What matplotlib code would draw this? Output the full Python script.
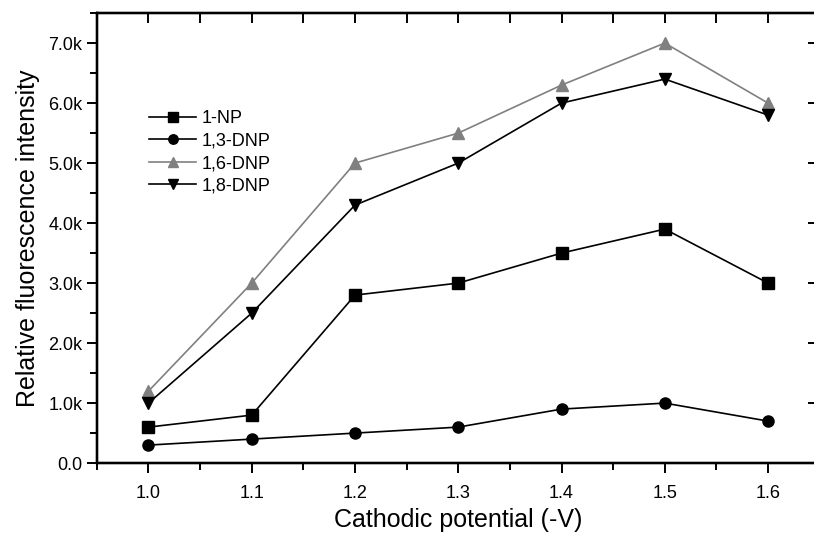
import matplotlib
matplotlib.use("Agg")
import matplotlib.pyplot as plt
from matplotlib.ticker import MultipleLocator, FuncFormatter

plt.rcParams['font.family'] = ['Liberation Sans', 'DejaVu Sans']

# data
potential = [1.0, 1.1, 1.2, 1.3, 1.4, 1.5, 1.6]
np1 = [600, 800, 2800, 3000, 3500, 3900, 3000]
dnp13 = [300, 400, 500, 600, 900, 1000, 700]
dnp16 = [1200, 3000, 5000, 5500, 6300, 7000, 6000]
dnp18 = [1000, 2500, 4300, 5000, 6000, 6400, 5800]

fig = plt.figure(figsize=(8.14, 5.36), dpi=100)
ax = fig.add_axes([0.119, 0.136, 0.888, 0.8396])

ax.plot(potential, np1, color='black', lw=1.2, marker='s', ms=8, label='1-NP')
ax.plot(potential, dnp13, color='black', lw=1.2, marker='o', ms=8, label='1,3-DNP')
ax.plot(potential, dnp16, color='#808080', lw=1.2, marker='^', ms=9, label='1,6-DNP')
ax.plot(potential, dnp18, color='black', lw=1.2, marker='v', ms=9, label='1,8-DNP')

ax.set_xlim(0.95, 1.65)
ax.set_ylim(0, 7500)
ax.xaxis.set_major_locator(MultipleLocator(0.1))
ax.xaxis.set_minor_locator(MultipleLocator(0.05))
ax.yaxis.set_major_locator(MultipleLocator(1000))
ax.yaxis.set_minor_locator(MultipleLocator(500))
ax.xaxis.set_major_formatter(FuncFormatter(lambda v, p: f"{v:.1f}"))
ax.yaxis.set_major_formatter(FuncFormatter(lambda v, p: "0.0" if v == 0 else f"{v/1000:.1f}k"))

for s in ax.spines.values():
    s.set_linewidth(1.6)

ax.tick_params(which='both', direction='out', width=1.4, labelsize=13)
ax.tick_params(which='major', length=7)
ax.tick_params(which='minor', length=5)
ax.tick_params(axis='x', pad=9)

# inward ticks on top
axt = ax.twiny()
axt.set_xlim(ax.get_xlim())
axt.xaxis.set_major_locator(MultipleLocator(0.1))
axt.xaxis.set_minor_locator(MultipleLocator(0.05))
axt.tick_params(which='both', direction='in', width=1.4, length=7, labeltop=False)
# right side: only major ticks, inward
axr = ax.twinx()
axr.set_ylim(ax.get_ylim())
axr.yaxis.set_major_locator(MultipleLocator(1000))
axr.tick_params(which='major', direction='in', width=1.4, length=9, labelright=False)
for a in (axt, axr):
    for s in a.spines.values():
        s.set_linewidth(1.6)

ax.set_xlabel('Cathodic potential (-V)', fontsize=18, labelpad=4)
ax.set_ylabel('Relative fluorescence intensity', fontsize=18, labelpad=6)

ax.legend(loc='upper left', bbox_to_anchor=(0.05, 0.82), frameon=False, fontsize=13,
          handlelength=2.6, handletextpad=0.3, labelspacing=0.3, markerscale=0.85)

fig.savefig('out.png', dpi=100)
